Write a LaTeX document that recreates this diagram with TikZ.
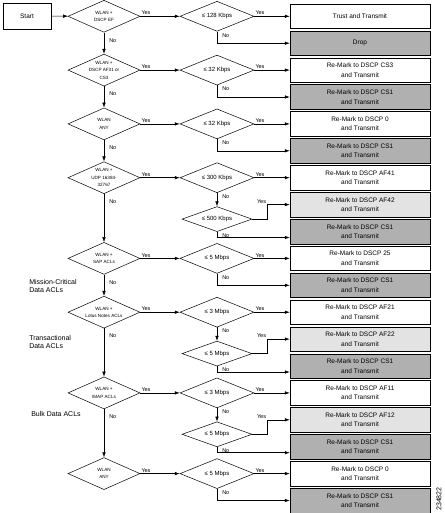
\documentclass[tikz,border=0pt]{standalone}
\usepackage{fontspec}
\setmainfont{Liberation Sans}
\usepackage{tikz}
\usetikzlibrary{arrows.meta,shapes.geometric}
\definecolor{DropGray}{HTML}{B0B0B0}
\definecolor{ShapeGray}{HTML}{E3E3E3}
\tikzset{
  startbox/.style={draw,minimum width=48pt,minimum height=26pt,inner sep=0pt,font=\fontsize{6.5}{8}\selectfont},
  outbox/.style={draw,fill=white,minimum width=140pt,minimum height=24.5pt,inner sep=0pt,align=center,font=\fontsize{6.5}{9.5}\selectfont},
  dropbox/.style={outbox,fill=DropGray},
  shapebox/.style={outbox,fill=ShapeGray},
  decision/.style={draw,diamond,aspect=2.25,minimum width=72pt,minimum height=32pt,inner sep=0pt,align=center,font=\fontsize{4.6}{7.5}\selectfont},
  ratecheck/.style={draw,diamond,aspect=2.4,minimum width=74pt,minimum height=30pt,inner sep=0pt,align=center,font=\fontsize{6}{7}\selectfont},
  subcheck/.style={ratecheck,minimum width=70pt,minimum height=25pt},
  line/.style={-{Latex[length=5pt,width=3.5pt]},line width=0.5pt},
  yeslbl/.style={pos=0,anchor=south west,inner sep=1pt,font=\fontsize{5.5}{6}\selectfont},
  nolbl/.style={pos=0,anchor=north west,inner sep=1pt,xshift=4pt,yshift=-0.5pt,font=\fontsize{5.5}{6}\selectfont},
  group/.style={anchor=north west,align=left,inner sep=0pt,font=\fontsize{7}{8}\selectfont}
}

\begin{document}
\begin{tikzpicture}[x=1pt,y=-1pt,line width=0.5pt]
  \useasboundingbox (0,0) rectangle (444,513);
  \node[startbox] (start) at (27,16) {Start};
  \node[decision] (wlan1) at (104,16.3) {WLAN +\\DSCP EF};
  \node[decision] (wlan2) at (104,70.1) {WLAN +\\DSCP AF31 or\\CS3};
  \node[decision] (wlan3) at (104,123.9) {WLAN\\ANY};
  \node[decision] (wlan4) at (104,177.7) {WLAN +\\UDP 16384-\\32767};
  \node[decision] (wlan5) at (104,258.4) {WLAN +\\SAP ACLs};
  \node[decision] (wlan6) at (104,312.2) {WLAN +\\Lotus Notes ACLs};
  \node[decision] (wlan7) at (104,392.9) {WLAN +\\IMAP ACLs};
  \node[decision] (wlan8) at (104,473.6) {WLAN\\ANY};
  \node[ratecheck] (rate1) at (217,16.3) {≤ 128 Kbps};
  \node[ratecheck] (rate2) at (217,70.1) {≤ 32 Kbps};
  \node[ratecheck] (rate3) at (217,123.9) {≤ 32 Kbps};
  \node[ratecheck] (rate4) at (217,177.7) {≤ 300 Kbps};
  \node[subcheck] (rate5) at (217,219.1) {≤ 500 Kbps};
  \node[ratecheck] (rate6) at (217,258.4) {≤ 5 Mbps};
  \node[ratecheck] (rate7) at (217,312.2) {≤ 3 Mbps};
  \node[subcheck] (rate8) at (217,353.6) {≤ 5 Mbps};
  \node[ratecheck] (rate9) at (217,392.9) {≤ 3 Mbps};
  \node[subcheck] (rate10) at (217,434.3) {≤ 5 Mbps};
  \node[ratecheck] (rate11) at (217,473.6) {≤ 5 Mbps};
  \node[outbox] (out1) at (360,16.3) {Trust and Transmit};
  \node[dropbox] (out2) at (360,43.2) {Drop};
  \node[outbox] (out3) at (360,70.1) {Re-Mark to DSCP CS3\\and Transmit};
  \node[dropbox] (out4) at (360,97.0) {Re-Mark to DSCP CS1\\and Transmit};
  \node[outbox] (out5) at (360,123.9) {Re-Mark to DSCP 0\\and Transmit};
  \node[dropbox] (out6) at (360,150.8) {Re-Mark to DSCP CS1\\and Transmit};
  \node[outbox] (out7) at (360,177.7) {Re-Mark to DSCP AF41\\and Transmit};
  \node[shapebox] (out8) at (360,204.6) {Re-Mark to DSCP AF42\\and Transmit};
  \node[dropbox] (out9) at (360,231.5) {Re-Mark to DSCP CS1\\and Transmit};
  \node[outbox] (out10) at (360,258.4) {Re-Mark to DSCP 25\\and Transmit};
  \node[dropbox] (out11) at (360,285.3) {Re-Mark to DSCP CS1\\and Transmit};
  \node[outbox] (out12) at (360,312.2) {Re-Mark to DSCP AF21\\and Transmit};
  \node[shapebox] (out13) at (360,339.1) {Re-Mark to DSCP AF22\\and Transmit};
  \node[dropbox] (out14) at (360,366.0) {Re-Mark to DSCP CS1\\and Transmit};
  \node[outbox] (out15) at (360,392.9) {Re-Mark to DSCP AF11\\and Transmit};
  \node[shapebox] (out16) at (360,419.8) {Re-Mark to DSCP AF12\\and Transmit};
  \node[dropbox] (out17) at (360,446.7) {Re-Mark to DSCP CS1\\and Transmit};
  \node[outbox] (out18) at (360,473.6) {Re-Mark to DSCP 0\\and Transmit};
  \node[dropbox] (out19) at (360,500.5) {Re-Mark to DSCP CS1\\and Transmit};
  \node[group] (mcdata) at (29,279) {Mission-Critical\\Data ACLs};
  \node[group] (trdata) at (29,335) {Transactional\\Data ACLs};
  \node[group] (bulkdata) at (31,411) {Bulk Data ACLs};
  \node[rotate=90,inner sep=0pt,font=\fontsize{7}{8}\selectfont] (fignum) at (439,499) {234822};
  \draw[line] (start) -- (wlan1);
  \draw[line] (wlan1) -- node[nolbl,yshift=-4pt] {No} (wlan2);
  \draw[line] (wlan2) -- node[nolbl,yshift=-4pt] {No} (wlan3);
  \draw[line] (wlan3) -- node[nolbl,yshift=-4pt] {No} (wlan4);
  \draw[line] (wlan4) -- node[nolbl,yshift=-4pt] {No} (wlan5);
  \draw[line] (wlan5) -- node[nolbl,yshift=-4pt] {No} (wlan6);
  \draw[line] (wlan6) -- node[nolbl,yshift=-4pt] {No} (wlan7);
  \draw[line] (wlan7) -- node[nolbl,yshift=-4pt] {No} (wlan8);
  \draw[line] (wlan1) -- node[yeslbl] {Yes} (rate1);
  \draw[line] (wlan2) -- node[yeslbl] {Yes} (rate2);
  \draw[line] (wlan3) -- node[yeslbl] {Yes} (rate3);
  \draw[line] (wlan4) -- node[yeslbl] {Yes} (rate4);
  \draw[line] (wlan5) -- node[yeslbl] {Yes} (rate6);
  \draw[line] (wlan6) -- node[yeslbl] {Yes} (rate7);
  \draw[line] (wlan7) -- node[yeslbl] {Yes} (rate9);
  \draw[line] (wlan8) -- node[yeslbl] {Yes} (rate11);
  \draw[line] (rate1) -- node[yeslbl] {Yes} (out1);
  \draw[line] (rate1) |- node[nolbl] {No} (out2);
  \draw[line] (rate2) -- node[yeslbl] {Yes} (out3);
  \draw[line] (rate2) |- node[nolbl] {No} (out4);
  \draw[line] (rate3) -- node[yeslbl] {Yes} (out5);
  \draw[line] (rate3) |- node[nolbl] {No} (out6);
  \draw[line] (rate4) -- node[yeslbl] {Yes} (out7);
  \draw[line] (rate4) -- node[nolbl] {No} (rate5);
  \draw[line] (rate5.east) -- ++(15,0) |- node[yeslbl,pos=.5,anchor=south east] {Yes} (out8.west);
  \draw[line] (rate5) |- node[nolbl] {No} ([yshift=-6pt]out9.west);
  \draw[line] (rate6) -- node[yeslbl] {Yes} (out10);
  \draw[line] (rate6) |- node[nolbl] {No} (out11);
  \draw[line] (rate7) -- node[yeslbl] {Yes} (out12);
  \draw[line] (rate7) -- node[nolbl] {No} (rate8);
  \draw[line] (rate8.east) -- ++(15,0) |- node[yeslbl,pos=.5,anchor=south east] {Yes} (out13.west);
  \draw[line] (rate8) |- node[nolbl] {No} ([yshift=-6pt]out14.west);
  \draw[line] (rate9) -- node[yeslbl] {Yes} (out15);
  \draw[line] (rate9) -- node[nolbl] {No} (rate10);
  \draw[line] (rate10.east) -- ++(15,0) |- node[yeslbl,pos=.5,anchor=south east] {Yes} (out16.west);
  \draw[line] (rate10) |- node[nolbl] {No} ([yshift=-6pt]out17.west);
  \draw[line] (rate11) -- node[yeslbl] {Yes} (out18);
  \draw[line] (rate11) |- node[nolbl] {No} (out19);
\end{tikzpicture}
\end{document}
